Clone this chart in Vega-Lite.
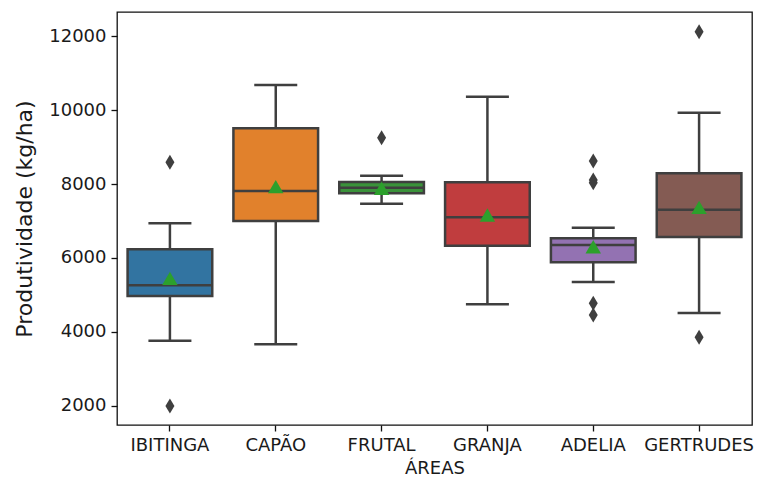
{
  "$schema": "https://vega.github.io/schema/vega-lite/v6.json",
  "width": 635,
  "height": 413,
  "autosize": "none",
  "padding": {"left": 117, "top": 12, "right": 6, "bottom": 54},
  "background": "white",
  "config": {
    "view": {"stroke": "#111", "strokeWidth": 1.3},
    "font": "DejaVu Sans",
    "axis": {
      "grid": false, "domain": false, "tickColor": "#111", "tickWidth": 1.3, "tickSize": 6,
      "labelFont": "DejaVu Sans", "labelFontSize": 18, "labelColor": "#1a1a1a",
      "titleFont": "DejaVu Sans", "titleFontSize": 18, "titleFontWeight": "normal", "titleColor": "#1a1a1a",
      "labelPadding": 5
    }
  },
  "datasets": {
    "stats": [
      {"area": "IBITINGA", "lo": 3766, "q1": 4973, "med": 5261, "q3": 6234, "hi": 6937, "mean": 5450},
      {"area": "CAPÃO", "lo": 3667, "q1": 7000, "med": 7811, "q3": 9505, "hi": 10676, "mean": 7928},
      {"area": "FRUTAL", "lo": 7468, "q1": 7748, "med": 7901, "q3": 8054, "hi": 8225, "mean": 7883},
      {"area": "GRANJA", "lo": 4748, "q1": 6333, "med": 7099, "q3": 8045, "hi": 10360, "mean": 7162},
      {"area": "ADELIA", "lo": 5351, "q1": 5883, "med": 6351, "q3": 6532, "hi": 6820, "mean": 6306},
      {"area": "GERTRUDES", "lo": 4514, "q1": 6568, "med": 7306, "q3": 8288, "hi": 9928, "mean": 7369}
    ],
    "out": [
      {"area": "IBITINGA", "value": 8586},
      {"area": "IBITINGA", "value": 2000},
      {"area": "FRUTAL", "value": 9252},
      {"area": "ADELIA", "value": 8622},
      {"area": "ADELIA", "value": 8108},
      {"area": "ADELIA", "value": 8036},
      {"area": "ADELIA", "value": 4775},
      {"area": "ADELIA", "value": 4459},
      {"area": "GERTRUDES", "value": 12117},
      {"area": "GERTRUDES", "value": 3856}
    ]
  },
  "encoding": {
    "x": {
      "field": "area", "type": "nominal",
      "scale": {"domain": ["IBITINGA", "CAPÃO", "FRUTAL", "GRANJA", "ADELIA", "GERTRUDES"], "paddingInner": 0, "paddingOuter": 0},
      "axis": {"title": "ÁREAS", "labelAngle": 0, "titlePadding": 5}
    }
  },
  "layer": [
    {
      "data": {"name": "stats"},
      "mark": {"type": "rule", "color": "#3f3f3f", "strokeWidth": 2.5},
      "encoding": {
        "y": {"field": "lo", "type": "quantitative", "scale": {"domain": [1486, 12649], "nice": false, "zero": false},
          "axis": {"title": "Produtividade (kg/ha)", "titleFontSize": 22, "format": "d", "values": [2000, 4000, 6000, 8000, 10000, 12000], "titlePadding": 12}},
        "y2": {"field": "hi"}
      }
    },
    {
      "data": {"name": "stats"},
      "mark": {"type": "tick", "color": "#3f3f3f", "opacity": 1, "thickness": 2.5, "size": 43},
      "encoding": {"y": {"field": "lo", "type": "quantitative"}}
    },
    {
      "data": {"name": "stats"},
      "mark": {"type": "tick", "color": "#3f3f3f", "opacity": 1, "thickness": 2.5, "size": 43},
      "encoding": {"y": {"field": "hi", "type": "quantitative"}}
    },
    {
      "data": {"name": "stats"},
      "mark": {"type": "bar", "width": {"band": 0.8}, "stroke": "#3f3f3f", "strokeWidth": 2.5, "opacity": 1},
      "encoding": {
        "y": {"field": "q1", "type": "quantitative"},
        "y2": {"field": "q3"},
        "color": {"field": "area", "type": "nominal", "legend": null,
          "scale": {"domain": ["IBITINGA", "CAPÃO", "FRUTAL", "GRANJA", "ADELIA", "GERTRUDES"],
            "range": ["#3274a1", "#e1812c", "#3a923a", "#c03d3e", "#9372b2", "#845b53"]}}
      }
    },
    {
      "data": {"name": "stats"},
      "mark": {"type": "tick", "color": "#3f3f3f", "opacity": 1, "thickness": 2.5, "size": 85},
      "encoding": {"y": {"field": "med", "type": "quantitative"}}
    },
    {
      "data": {"name": "stats"},
      "mark": {"type": "point", "shape": "triangle-up", "filled": true, "color": "#2ca02c", "opacity": 1, "size": 240},
      "encoding": {"y": {"field": "mean", "type": "quantitative"}}
    },
    {
      "data": {"name": "out"},
      "mark": {"type": "point", "shape": "M0,-1L0.6,0L0,1L-0.6,0Z", "filled": true, "color": "#3f3f3f", "opacity": 1, "size": 225},
      "encoding": {"y": {"field": "value", "type": "quantitative"}}
    }
  ]
}
